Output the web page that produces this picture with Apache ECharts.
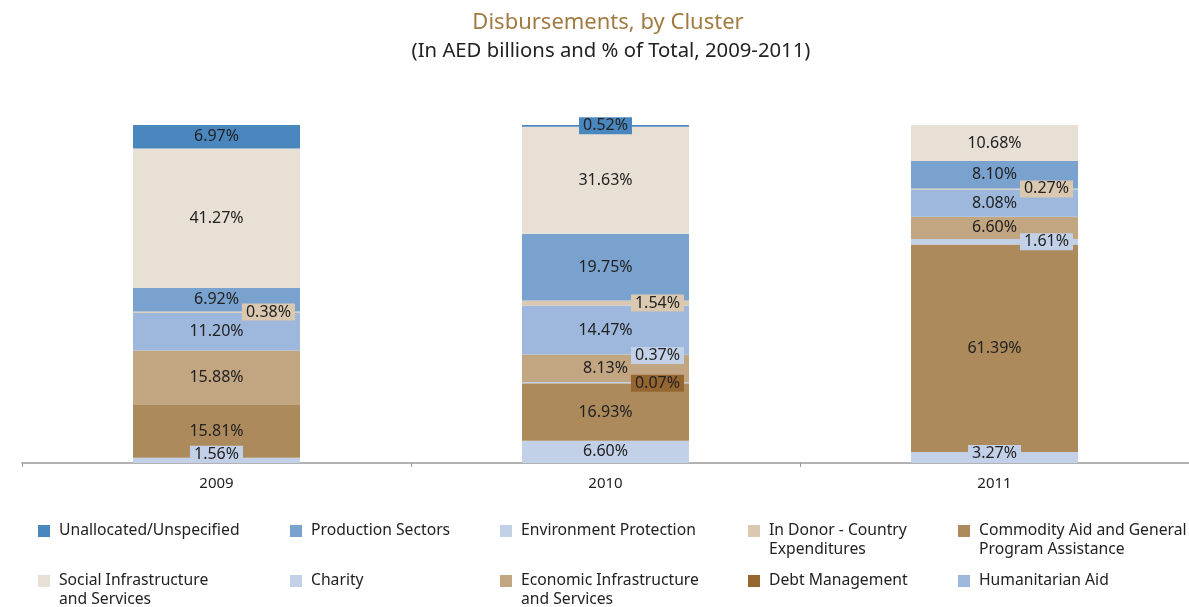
<!DOCTYPE html>
<html>
<head>
<meta charset="utf-8">
<script src="https://cdn.jsdelivr.net/npm/echarts@6/dist/echarts.min.js"></script>
<style>
  html, body { margin: 0; padding: 0; background: #fff; }
  #chart { width: 1189px; height: 607px; }
</style>
</head>
<body>
<div id="chart"></div>
<script>
// Data (% of total)
const years = ['2009', '2010', '2011'];
const charity = [1.56, 6.60, 3.27];
const commodityAid = [15.81, 16.93, 61.39];
const debtManagement = [0, 0.07, 0];
const environmentProtection = [0, 0.37, 1.61];
const economicInfra = [15.88, 8.13, 6.60];
const humanitarianAid = [11.20, 14.47, 8.08];
const inDonor = [0.38, 1.54, 0.27];
const productionSectors = [6.92, 19.75, 8.10];
const socialInfra = [41.27, 31.63, 10.68];
const unallocated = [6.97, 0.52, 0];

const seriesDefs = [
    { name: 'Charity', data: charity, color: '#c3d1e8' },
    { name: 'Commodity Aid and General Program Assistance', data: commodityAid, color: '#ad8a5b' },
    { name: 'Debt Management', data: debtManagement, color: '#966630' },
    { name: 'Environment Protection', data: environmentProtection, color: '#c3d1e8' },
    { name: 'Economic Infrastructure and Services', data: economicInfra, color: '#c2a581' },
    { name: 'Humanitarian Aid', data: humanitarianAid, color: '#9db8dc' },
    { name: 'In Donor - Country Expenditures', data: inDonor, color: '#dac8b0' },
    { name: 'Production Sectors', data: productionSectors, color: '#7aa2cf' },
    { name: 'Social Infrastructure and Services', data: socialInfra, color: '#e8e0d5' },
    { name: 'Unallocated/Unspecified', data: unallocated, color: '#4b87bf' }
];

// labels of thin segments: [series, year index, position, offset]
const smallLabels = [
    ['Charity', 0, 'inside', [0, -6]],
    ['Charity', 2, 'inside', [0, -4]],
    ['In Donor - Country Expenditures', 0, 'insideRight', [0, 0]],
    ['In Donor - Country Expenditures', 1, 'insideRight', [0, 0]],
    ['In Donor - Country Expenditures', 2, 'insideRight', [0, 0]],
    ['Environment Protection', 1, 'insideRight', [0, -27]],
    ['Environment Protection', 2, 'insideRight', [0, 0]],
    ['Debt Management', 1, 'insideRight', [0, 0]],
    ['Unallocated/Unspecified', 1, 'inside', [0, 0]]
];

// legend layout (row-major as in the source)
const legendWrap = {
    'Commodity Aid and General Program Assistance': 'Commodity Aid and General\nProgram Assistance',
    'Economic Infrastructure and Services': 'Economic Infrastructure\nand Services',
    'In Donor - Country Expenditures': 'In Donor - Country\nExpenditures',
    'Social Infrastructure and Services': 'Social Infrastructure\nand Services'
};
const legendOrder = [
    'Unallocated/Unspecified', 'Production Sectors', 'Environment Protection',
    'In Donor - Country Expenditures', 'Commodity Aid and General Program Assistance',
    'Social Infrastructure and Services', 'Charity', 'Economic Infrastructure and Services',
    'Debt Management', 'Humanitarian Aid'
];
const legendCols = [38, 290, 500, 748, 958];
const legendRows = [531, 581];
const lineH = 19;

const legends = legendOrder.map(function (name, i) {
    const twoLines = !!legendWrap[name];
    return {
        data: [name],
        left: legendCols[i % 5],
        top: legendRows[Math.floor(i / 5)] - (twoLines ? lineH * 1.5 : lineH / 2),
        padding: 0,
        icon: 'rect',
        itemWidth: 12,
        itemHeight: 12,
        itemGap: 0,
        selectedMode: false,
        // a blank first line keeps the square level with the first text line
        formatter: function (n) { return legendWrap[n] ? ' \n' + legendWrap[n] : n; },
        textStyle: {
            fontFamily: 'Noto Sans',
            fontSize: 15.7,
            color: '#222',
            lineHeight: lineH,
            padding: [0, 0, 0, 4]
        }
    };
});

const series = seriesDefs.map(function (s) {
    return {
        name: s.name,
        type: 'bar',
        stack: 'total',
        barWidth: 167,
        itemStyle: { color: s.color },
        label: {
            show: true,
            position: 'inside',
            fontFamily: 'Noto Sans',
            fontSize: 16,
            color: '#222',
            formatter: function (p) { return p.value ? p.value.toFixed(2) + '%' : ''; }
        },
        data: s.data.map(function (v, idx) {
            const hit = smallLabels.find(function (l) { return l[0] === s.name && l[1] === idx; });
            if (!hit) return v;
            return {
                value: v,
                label: {
                    position: hit[2],
                    distance: 5,
                    offset: hit[3],
                    backgroundColor: s.color,
                    padding: [1, 4, 0, 4]
                }
            };
        })
    };
});

const chart = echarts.init(document.getElementById('chart'));
chart.setOption({
    animation: false,
    title: [
        {
            text: 'Disbursements, by Cluster',
            left: 608,
            top: 12,
            padding: 0,
            textAlign: 'center',
            textStyle: { fontFamily: 'Noto Sans', fontSize: 22, fontWeight: 'normal', color: '#a07a40' }
        },
        {
            text: '(In AED billions and % of Total, 2009-2011)',
            left: 611,
            top: 41,
            padding: 0,
            textAlign: 'center',
            textStyle: { fontFamily: 'Noto Sans', fontSize: 20.3, fontWeight: 'normal', color: '#222' }
        }
    ],
    legend: legends,
    grid: { left: 22, right: -1, top: 125, bottom: 144 },
    xAxis: {
        type: 'category',
        data: years,
        axisLine: { lineStyle: { color: '#999', width: 1.5 } },
        axisTick: { show: true, length: 4, lineStyle: { color: '#999' } },
        axisLabel: { fontFamily: 'Noto Sans', fontSize: 15, color: '#222', margin: 13 }
    },
    yAxis: {
        type: 'value',
        min: 0,
        max: 100,
        show: false
    },
    series: series
});
window.addEventListener('resize', function () {
    chart.resize();
});
</script>
</body>
</html>
